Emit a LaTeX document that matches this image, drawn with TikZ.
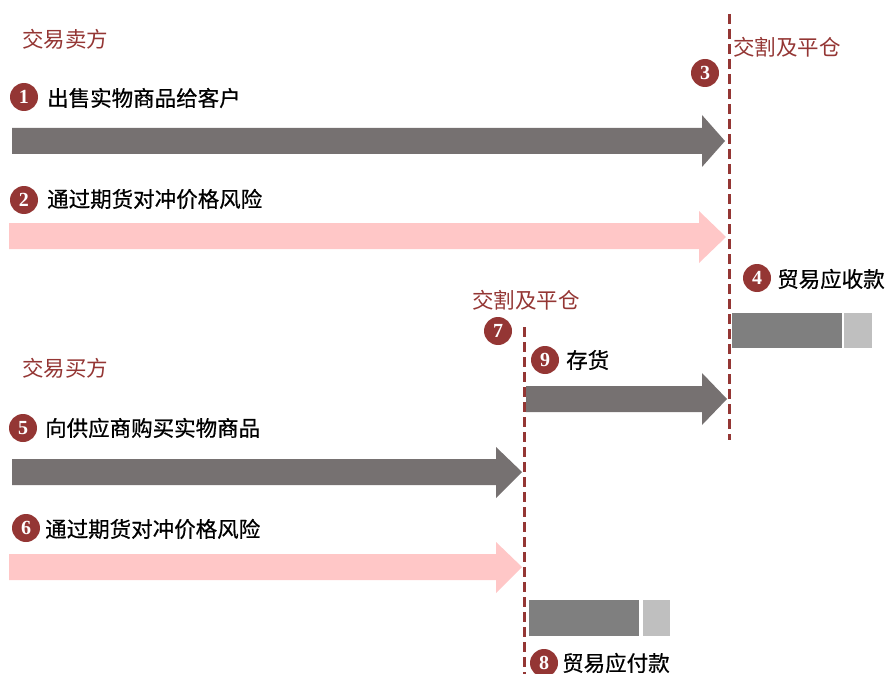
\documentclass[tikz,border=0pt]{standalone}
\usepackage{fontspec}
\newfontfamily\cjk{Noto Sans CJK SC}
\newfontfamily\cjkm[FakeBold=0.6]{Noto Sans CJK SC}
\newfontfamily\numfont{Liberation Serif}
\definecolor{dred}{HTML}{943634}
\definecolor{agray}{HTML}{767171}
\definecolor{apink}{HTML}{FFC7C7}
\definecolor{bgray}{HTML}{7F7F7F}
\definecolor{lgray}{HTML}{BFBFBF}
\begin{document}
\begin{tikzpicture}[x=1pt,y=-1pt,
  redlbl/.style={anchor=west,inner sep=0pt,text=dred,font=\cjk\fontsize{21.5}{24}\selectfont},
  blklbl/.style={anchor=west,inner sep=0pt,text=black,font=\cjkm\fontsize{21.5}{24}\selectfont},
  numdot/.style={circle,fill=dred,text=white,minimum size=28pt,inner sep=0pt,font=\numfont\bfseries\fontsize{20}{20}\selectfont},
  cutline/.style={dred,line width=3pt,dash pattern=on 10pt off 5pt},
  barA/.style={fill=bgray,draw=none},
  barB/.style={fill=lgray,draw=none}]
\useasboundingbox (0,0) rectangle (889,674);
% seller
\node[redlbl] (seller) at (22,39) {交易卖方};
\node[numdot] (n1) at (24,97) {1};
\node[blklbl] (t1) at (47,98) {出售实物商品给客户};
\fill[agray] (12,128) -- (702,128) -- (702,115) -- (725,141) -- (702,167) -- (702,154) -- (12,154) -- cycle;
\node[numdot] (n2) at (24,200) {2};
\node[blklbl] (t2) at (47,199) {通过期货对冲价格风险};
\fill[apink] (9,223) -- (699,223) -- (699,211) -- (726,237) -- (699,263) -- (699,249) -- (9,249) -- cycle;
% cut line right
\coordinate (c3a) at (729,14);
\coordinate (c3b) at (729,440);
\draw[cutline] (c3a) -- (c3b);
\node[redlbl] (d3) at (733,47) {交割及平仓};
\node[numdot] (n3) at (705,73) {3};
\node[numdot] (n4) at (757,278) {4};
\node[blklbl] (t4) at (777,279) {贸易应收款};
\fill[barA] (732,313) rectangle (842,348);
\fill[barB] (844,313) rectangle (872,348);
% second cut
\node[redlbl] (d7) at (472,300) {交割及平仓};
\node[numdot] (n7) at (498,331) {7};
\coordinate (c7a) at (524,327);
\coordinate (c7b) at (524,674);
\draw[cutline] (c7a) -- (c7b);
\node[numdot] (n9) at (545,360) {9};
\node[blklbl] (t9) at (566,360) {存货};
\fill[agray] (526,386) -- (702,386) -- (702,373) -- (727,399) -- (702,425) -- (702,412) -- (526,412) -- cycle;
% buyer
\node[redlbl] (buyer) at (22,368) {交易买方};
\node[numdot] (n5) at (23,428) {5};
\node[blklbl] (t5) at (45,428) {向供应商购买实物商品};
\fill[agray] (12,459) -- (496,459) -- (496,447) -- (522,472) -- (496,498) -- (496,485) -- (12,485) -- cycle;
\node[numdot] (n6) at (26,528) {6};
\node[blklbl] (t6) at (45,529) {通过期货对冲价格风险};
\fill[apink] (9,554) -- (496,554) -- (496,542) -- (522,567) -- (496,593) -- (496,580) -- (9,580) -- cycle;
\fill[barA] (529,600) rectangle (639,636);
\fill[barB] (643,600) rectangle (670,636);
\node[numdot] (n8) at (544,663) {8};
\node[blklbl] (t8) at (562,663) {贸易应付款};
\end{tikzpicture}
\end{document}
